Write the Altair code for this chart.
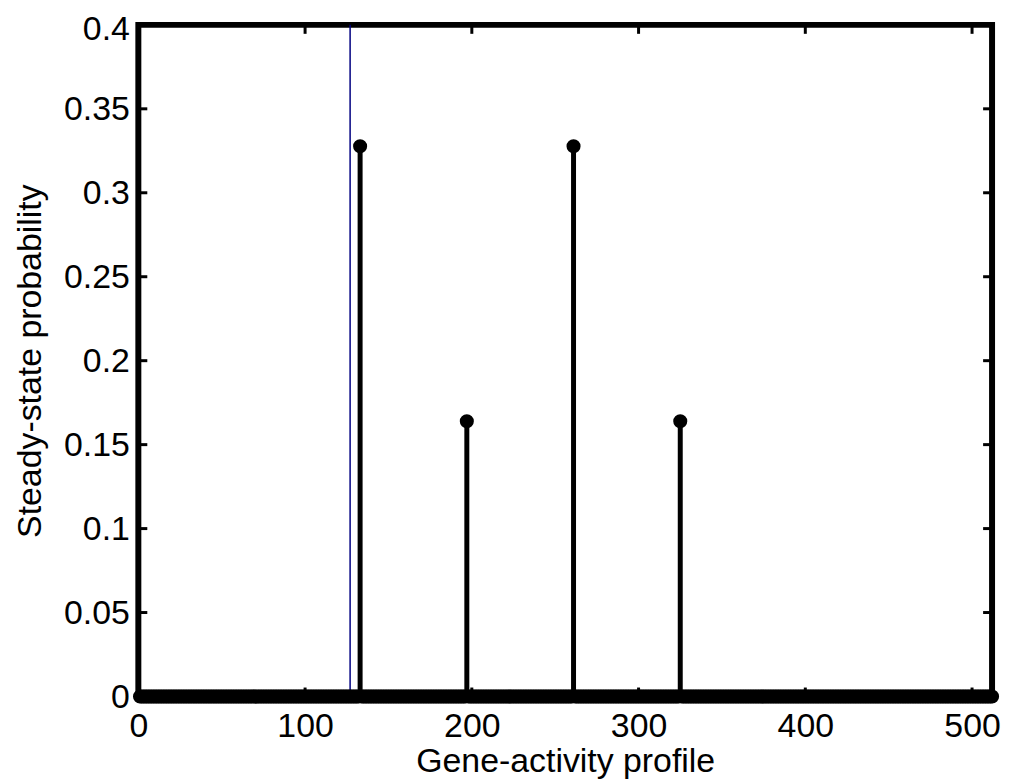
import altair as alt
import pandas as pd

# ---- data ----
n_states = 512
peak_states = [133, 197, 261, 325]
peak_probs = [0.3277, 0.1639, 0.3277, 0.1639]
marker_state = 127  # thin blue vertical line
x_ticks = [0, 100, 200, 300, 400, 500]
y_ticks = [0, 0.05, 0.1, 0.15, 0.2, 0.25, 0.3, 0.35, 0.4]

peaks = dict(zip(peak_states, peak_probs))
states = list(range(1, n_states + 1))
df = pd.DataFrame({"state": states, "prob": [peaks.get(s, 0.0) for s in states]})
stem_df = pd.DataFrame({"state": peak_states, "prob": peak_probs, "base": [0.0] * len(peak_states)})
line_df = pd.DataFrame({"state": [marker_state], "lo": [0.0], "hi": [0.4]})
xt_df = pd.DataFrame({"v": x_ticks})
yt_df = pd.DataFrame({"v": y_ticks})

W, H = 858, 675
FONT = "Liberation Sans"
FS = 34
TL = 9  # tick length in px

xs = alt.Scale(domain=[0, 512], nice=False, zero=False)
ys = alt.Scale(domain=[0, 0.4], nice=False)

x_axis = alt.Axis(values=x_ticks, grid=False, domain=False, ticks=False,
                  labelFont=FONT, labelFontSize=FS, labelColor="black",
                  labelPadding=13, labelFlush=False, labelOverlap=False,
                  title="Gene-activity profile", titleFont=FONT, titleFontSize=FS,
                  titleFontWeight="normal", titleColor="black",
                  titleY=75, titleBaseline="alphabetic")
y_axis = alt.Axis(values=y_ticks, format="~g", grid=False, domain=False, ticks=False,
                  labelFont=FONT, labelFontSize=FS, labelColor="black",
                  labelPadding=9, labelFlush=False, labelOverlap=False,
                  labelOffset={"condition": {"test": "datum.value >= 0.4", "value": 5}, "value": 1},
                  title="Steady-state probability", titleFont=FONT, titleFontSize=FS,
                  titleFontWeight="normal", titleColor="black",
                  titleX=-108, titleY=H / 2, titleAngle=-90,
                  titleAlign="center", titleBaseline="middle")

X = lambda f: alt.X(f, scale=xs, axis=x_axis)
Y = lambda f: alt.Y(f, scale=ys, axis=y_axis)

blue = alt.Chart(line_df).mark_rule(color="#000080", strokeWidth=1.5).encode(
    x=X("state:Q"), y=Y("lo:Q"), y2="hi:Q",
)

stems = alt.Chart(stem_df).mark_rule(color="black", strokeWidth=5).encode(
    x=X("state:Q"), y=Y("base:Q"), y2="prob:Q",
)

points = alt.Chart(df).mark_circle(color="black", opacity=1, size=200).encode(
    x=X("state:Q"), y=Y("prob:Q"),
)

tick_style = dict(color="black", strokeWidth=3)
left_t = alt.Chart(yt_df).mark_rule(**tick_style).encode(
    y=Y("v:Q"), x=alt.value(0), x2=alt.value(TL))
right_t = alt.Chart(yt_df).mark_rule(**tick_style).encode(
    y=Y("v:Q"), x=alt.value(W - TL), x2=alt.value(W))
bottom_t = alt.Chart(xt_df).mark_rule(**tick_style).encode(
    x=X("v:Q"), y=alt.value(H - TL), y2=alt.value(H))
top_t = alt.Chart(xt_df).mark_rule(**tick_style).encode(
    x=X("v:Q"), y=alt.value(0), y2=alt.value(TL))

chart = alt.layer(blue, left_t, right_t, bottom_t, top_t, stems, points).properties(
    width=W, height=H,
    autosize=alt.AutoSizeParams(type="none"),
    padding={"left": 131, "top": 15, "right": 12, "bottom": 86},
    background="white",
).configure_view(stroke="black", strokeWidth=6)

chart.save("out.html", embed_options={"renderer": "svg", "actions": False})
